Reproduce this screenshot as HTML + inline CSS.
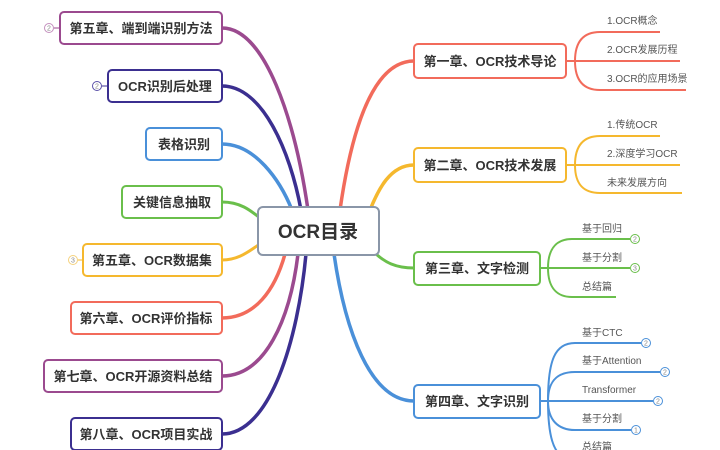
<!DOCTYPE html>
<html><head><meta charset="utf-8"><style>
html,body{margin:0;padding:0;background:#fff;}
svg{display:block;}
text{font-family:"Liberation Sans","Noto Sans CJK SC",sans-serif;}
.b{font-weight:bold;font-size:13px;fill:#333;}
.s{font-size:10px;fill:#555;}
</style></head><body>
<svg width="720" height="450" viewBox="0 0 720 450" xmlns="http://www.w3.org/2000/svg">
<g fill="none" stroke-linecap="round">
<path d="M222,28 C265,28 295,120 308,210" stroke="#9b4a8f" stroke-width="3.5"/>
<path d="M222,86 C262,86 290,150 301,210" stroke="#3b2f90" stroke-width="3.5"/>
<path d="M222,144 C255,144 280,180 292,210" stroke="#4a90d9" stroke-width="3.5"/>
<path d="M222,202 C240,202 250,210 260,218" stroke="#6abf4b" stroke-width="3"/>
<path d="M222,260 C240,260 250,250 260,244" stroke="#f5b82e" stroke-width="3"/>
<path d="M222,318 C255,318 275,290 285,254" stroke="#f26b5b" stroke-width="3.5"/>
<path d="M222,376 C265,376 290,320 298,254" stroke="#9b4a8f" stroke-width="3.5"/>
<path d="M222,434 C270,434 298,340 306,254" stroke="#3b2f90" stroke-width="3.5"/>
<path d="M414,61 C370,61 350,140 340,210" stroke="#f26b5b" stroke-width="3.5"/>
<path d="M414,165 C390,165 378,190 370,210" stroke="#f5b82e" stroke-width="3.5"/>
<path d="M414,268 C395,268 385,262 376,254" stroke="#6abf4b" stroke-width="3"/>
<path d="M414,401 C370,401 345,330 334,254" stroke="#4a90d9" stroke-width="3.5"/>
</g>
<g fill="none" stroke-width="2">
<g stroke="#f26b5b">
<path d="M566,61 H575"/>
<path d="M575,61 C575,40 585,32 600,32 H660"/>
<path d="M575,61 H680"/>
<path d="M575,61 C575,82 585,90 600,90 H686"/>
</g>
<g stroke="#f5b82e">
<path d="M566,165 H575"/>
<path d="M575,165 C575,144 585,136 600,136 H660"/>
<path d="M575,165 H680"/>
<path d="M575,165 C575,186 585,193 600,193 H682"/>
</g>
<g stroke="#6abf4b">
<path d="M540,268 H548"/>
<path d="M548,268 C548,247 558,239 572,239 H630"/>
<path d="M548,268 H630"/>
<path d="M548,268 C548,289 558,297 572,297 H616"/>
<circle cx="635" cy="239" r="4.5" stroke-width="1" fill="#fff"/>
<circle cx="635" cy="268" r="4.5" stroke-width="1" fill="#fff"/>
</g>
<g stroke="#4a90d9">
<path d="M540,401 H548"/>
<path d="M548,401 C548,360 555,343 575,343 H641"/>
<path d="M548,401 C548,380 558,372 575,372 H660"/>
<path d="M548,401 H653"/>
<path d="M548,401 C548,420 558,430 575,430 H631"/>
<path d="M548,401 C548,440 555,450 560,455"/>
<circle cx="646" cy="343" r="4.5" stroke-width="1" fill="#fff"/>
<circle cx="665" cy="372" r="4.5" stroke-width="1" fill="#fff"/>
<circle cx="658" cy="401" r="4.5" stroke-width="1" fill="#fff"/>
<circle cx="636" cy="430" r="4.5" stroke-width="1" fill="#fff"/>
</g>
<path d="M54,28 H60" stroke="#9b4a8f" stroke-width="1"/>
<circle cx="49" cy="28" r="4.5" stroke="#c490be" stroke-width="1"/>
<path d="M102,86 H108" stroke="#3b2f90" stroke-width="1"/>
<circle cx="97" cy="86" r="4.5" stroke="#5a50a8" stroke-width="1"/>
<path d="M78,260 H83" stroke="#f5b82e" stroke-width="1"/>
<circle cx="73" cy="260" r="4.5" stroke="#f5d27e" stroke-width="1"/>
</g>
<g font-size="7" fill="#888" text-anchor="middle">
<text x="49" y="30.5">2</text><text x="97" y="88.5">2</text><text x="73" y="262.5">3</text>
<text x="635" y="241.5">2</text><text x="635" y="270.5">3</text>
<text x="646" y="345.5">2</text><text x="665" y="374.5">2</text><text x="658" y="403.5">2</text><text x="636" y="432.5">1</text>
</g>
<g fill="#fff" stroke-width="2">
<rect x="60" y="12" width="162" height="32" rx="4" stroke="#9b4a8f"/>
<rect x="108" y="70" width="114" height="32" rx="4" stroke="#3b2f90"/>
<rect x="146" y="128" width="76" height="32" rx="4" stroke="#4a90d9"/>
<rect x="122" y="186" width="100" height="32" rx="4" stroke="#6abf4b"/>
<rect x="83" y="244" width="139" height="32" rx="4" stroke="#f5b82e"/>
<rect x="71" y="302" width="151" height="32" rx="4" stroke="#f26b5b"/>
<rect x="44" y="360" width="178" height="32" rx="4" stroke="#9b4a8f"/>
<rect x="71" y="418" width="151" height="32" rx="4" stroke="#3b2f90"/>
<rect x="414" y="44" width="152" height="34" rx="4" stroke="#f26b5b"/>
<rect x="414" y="148" width="152" height="34" rx="4" stroke="#f5b82e"/>
<rect x="414" y="252" width="126" height="33" rx="4" stroke="#6abf4b"/>
<rect x="414" y="385" width="126" height="33" rx="4" stroke="#4a90d9"/>
<rect x="258" y="207" width="121" height="48" rx="5" stroke="#8a96a8"/>
</g>
<text x="318" y="238" text-anchor="middle" font-size="19" font-weight="bold" fill="#333">OCR目录</text>
<g class="b" text-anchor="middle">
<text x="141" y="33">第五章、端到端识别方法</text>
<text x="165" y="91">OCR识别后处理</text>
<text x="184" y="149">表格识别</text>
<text x="172" y="207">关键信息抽取</text>
<text x="152" y="265">第五章、OCR数据集</text>
<text x="146" y="323">第六章、OCR评价指标</text>
<text x="133" y="381">第七章、OCR开源资料总结</text>
<text x="146" y="439">第八章、OCR项目实战</text>
<text x="490" y="66">第一章、OCR技术导论</text>
<text x="490" y="170">第二章、OCR技术发展</text>
<text x="477" y="273">第三章、文字检测</text>
<text x="477" y="406">第四章、文字识别</text>
</g>
<g class="s">
<text x="607" y="24">1.OCR概念</text>
<text x="607" y="53">2.OCR发展历程</text>
<text x="607" y="82">3.OCR的应用场景</text>
<text x="607" y="128">1.传统OCR</text>
<text x="607" y="157">2.深度学习OCR</text>
<text x="607" y="186">未来发展方向</text>
<text x="582" y="232">基于回归</text>
<text x="582" y="261">基于分割</text>
<text x="582" y="290">总结篇</text>
<text x="582" y="336">基于CTC</text>
<text x="582" y="364">基于Attention</text>
<text x="582" y="393">Transformer</text>
<text x="582" y="422">基于分割</text>
<text x="582" y="450">总结篇</text>
</g>
</svg>
</body></html>
